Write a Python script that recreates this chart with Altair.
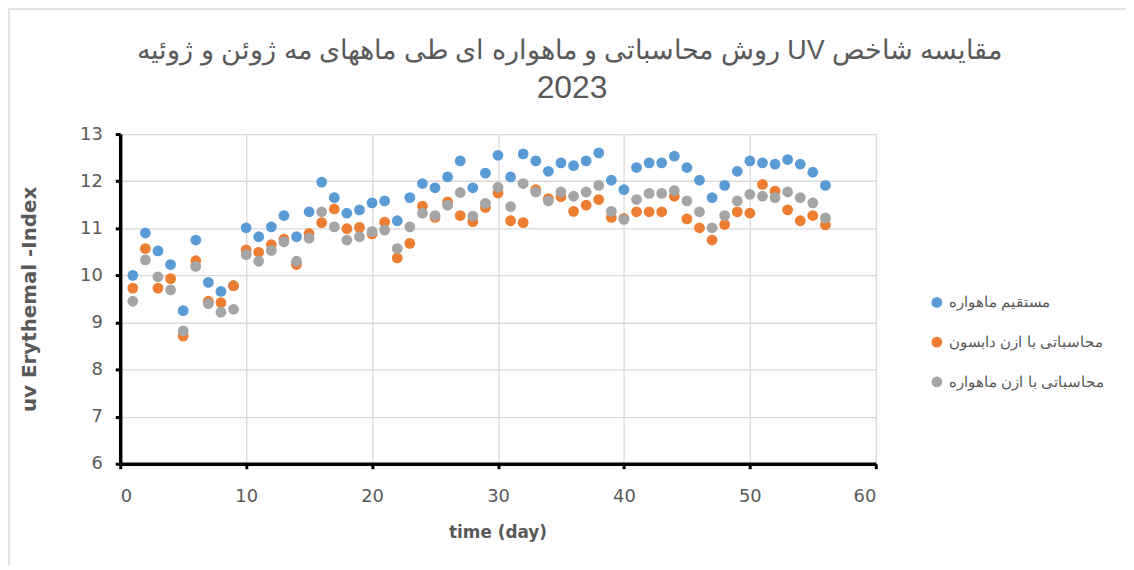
import altair as alt
import pandas as pd

days = list(range(1, 57))

direct_sat = [10.00, 10.90, 10.52, 10.23, 9.25, 10.75, 9.85, 9.66, 9.78, 11.01,
              10.82, 11.03, 11.27, 10.82, 11.35, 11.98, 11.65, 11.32, 11.39, 11.54,
              11.58, 11.16, 11.65, 11.95, 11.86, 12.09, 12.43, 11.86, 12.17, 12.55,
              12.09, 12.58, 12.43, 12.21, 12.39, 12.33, 12.43, 12.60, 12.02, 11.82,
              12.29, 12.39, 12.39, 12.53, 12.29, 12.02, 11.65, 11.91, 12.21, 12.43,
              12.39, 12.36, 12.46, 12.36, 12.19, 11.91]

calc_dobson = [9.73, 10.57, 9.73, 9.93, 8.71, 10.31, 9.45, 9.42, 9.78, 10.54,
               10.49, 10.65, 10.77, 10.23, 10.89, 11.12, 11.41, 10.99, 11.02, 10.88,
               11.13, 10.37, 10.68, 11.47, 11.23, 11.56, 11.27, 11.14, 11.44, 11.75,
               11.16, 11.12, 11.82, 11.63, 11.67, 11.36, 11.49, 11.61, 11.23, 11.21,
               11.35, 11.35, 11.35, 11.68, 11.20, 11.01, 10.75, 11.08, 11.35, 11.32,
               11.93, 11.79, 11.39, 11.16, 11.27, 11.07]

calc_sat = [9.45, 10.33, 9.97, 9.69, 8.82, 10.19, 9.40, 9.22, 9.28, 10.44,
            10.30, 10.53, 10.71, 10.30, 10.79, 11.35, 11.03, 10.75, 10.82, 10.93,
            10.96, 10.57, 11.03, 11.32, 11.27, 11.49, 11.76, 11.26, 11.53, 11.87,
            11.46, 11.95, 11.77, 11.58, 11.77, 11.68, 11.77, 11.91, 11.36, 11.19,
            11.61, 11.74, 11.74, 11.80, 11.58, 11.35, 11.01, 11.27, 11.58, 11.72,
            11.68, 11.65, 11.77, 11.65, 11.54, 11.22]

series_names = ["مستقیم ماهواره", "محاسباتی با ازن دابسون", "محاسباتی با ازن ماهواره"]
series_colors = ["#5B9BD5", "#ED7D31", "#A5A5A5"]

title_line1 = "مقایسه شاخص UV  روش محاسباتی و ماهواره ای طی ماههای مه ژوئن و ژوئیه"
title_line2 = "2023"
x_ticks = [0, 10, 20, 30, 40, 50, 60]
y_ticks = [6, 7, 8, 9, 10, 11, 12, 13]

rows = []
for name, vals in zip(series_names, [direct_sat, calc_dobson, calc_sat]):
    for d, v in zip(days, vals):
        rows.append({"day": d, "uv": v, "series": name})
df = pd.DataFrame(rows)

label_color = "#595959"

points = alt.Chart(df).mark_circle(size=118, opacity=1).encode(
    x=alt.X("day:Q",
            scale=alt.Scale(domain=[0, 60], nice=False),
            axis=alt.Axis(values=x_ticks, title="time (day)",
                          titleX=380, titleY=69, titleBaseline="middle",
                          titleFontSize=17, labelPadding=19)),
    y=alt.Y("uv:Q",
            scale=alt.Scale(domain=[6, 13], nice=False, zero=False),
            axis=alt.Axis(values=y_ticks, title="uv Erythemal -Index",
                          titleX=-91, titleY=166, titleAngle=-90,
                          titleAlign="center", titleBaseline="middle",
                          titleFontSize=20, labelPadding=13)),
    color=alt.Color("series:N",
                    scale=alt.Scale(domain=series_names, range=series_colors),
                    sort=series_names,
                    legend=alt.Legend(title=None, orient="none",
                                      legendX=815, legendY=162,
                                      symbolSize=118, symbolType="circle",
                                      labelFontSize=15, labelColor=label_color,
                                      labelFont="Liberation Sans",
                                      rowPadding=24, padding=0, labelOffset=5)),
)

border = alt.Chart(pd.DataFrame({"a": [0]})).mark_rect(
    filled=False, stroke="#d9d9d9", strokeWidth=1.5, clip=False
).encode(x=alt.value(-112), x2=alt.value(1030), y=alt.value(-126), y2=alt.value(460))

# RLE ... PDF so the mixed Persian/Latin title is laid out right-to-left
title1 = alt.Chart(pd.DataFrame({"t": ["\u202b" + title_line1 + "\u202c"]})).mark_text(
    fontSize=27, font="Liberation Sans", color=label_color, align="center",
    baseline="middle", clip=False
).encode(text="t:N", x=alt.value(453), y=alt.value(-84))

title2 = alt.Chart(pd.DataFrame({"t": [title_line2]})).mark_text(
    fontSize=32, font="Liberation Sans", color=label_color, align="center",
    baseline="middle", clip=False
).encode(text="t:N", x=alt.value(455), y=alt.value(-46))

chart = alt.layer(border, points, title1, title2).properties(
    width=761, height=332,
    autosize=alt.AutoSizeParams(type="none"),
    padding={"left": 113, "top": 125, "right": 252, "bottom": 100},
).configure_view(stroke=None).configure_axis(
    domainColor="black", domainWidth=3.5,
    tickColor="black", tickWidth=3, tickSize=5,
    gridColor="#d9d9d9", gridWidth=1.3,
    labelFont="DejaVu Sans", labelFontSize=18, labelColor=label_color,
    titleFont="DejaVu Sans", titleFontWeight="bold",
    titleColor=label_color,
)

chart.save("out.html", embed_options={"renderer": "svg", "actions": False})
